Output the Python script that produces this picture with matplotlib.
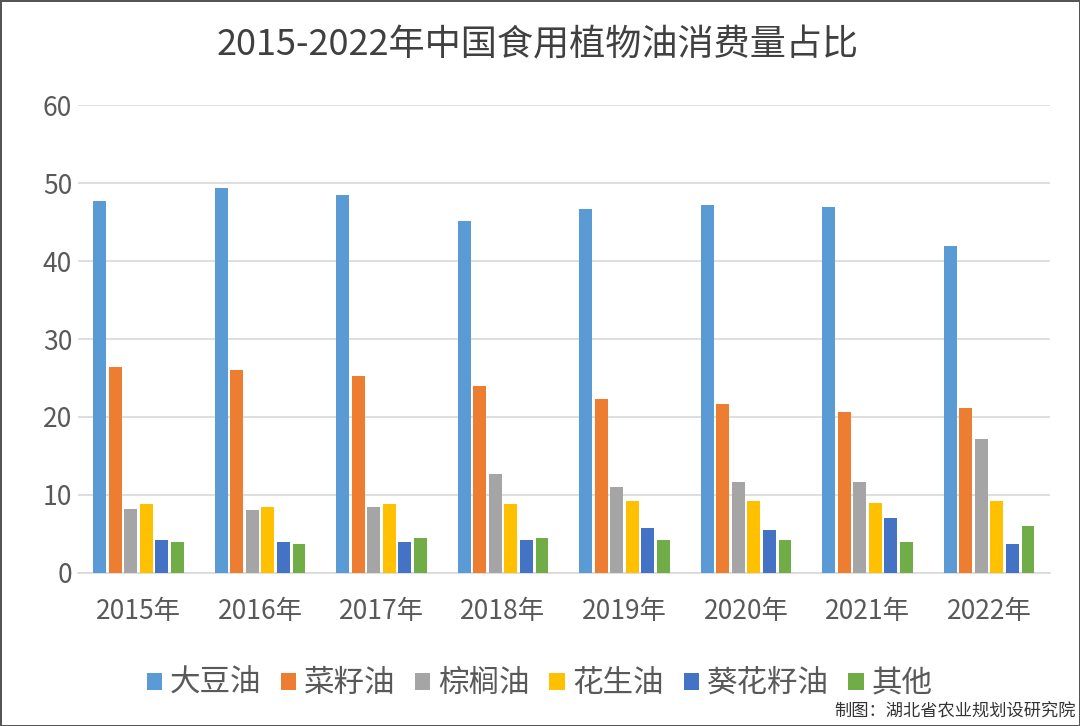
import matplotlib.pyplot as plt
import numpy as np

plt.rcParams['font.family'] = ['Noto Sans CJK SC', 'DejaVu Sans']

# 数据（%）
years = ["2015年", "2016年", "2017年", "2018年", "2019年", "2020年", "2021年", "2022年"]
soybean = [47.7, 49.4, 48.5, 45.2, 46.7, 47.2, 47.0, 41.9]
rapeseed = [26.4, 26.0, 25.3, 24.0, 22.3, 21.7, 20.7, 21.2]
palm = [8.2, 8.0, 8.5, 12.7, 11.0, 11.7, 11.7, 17.2]
peanut = [8.8, 8.5, 8.8, 8.8, 9.2, 9.2, 9.0, 9.2]
sunflower = [4.2, 4.0, 4.0, 4.2, 5.7, 5.5, 7.0, 3.7]
other = [4.0, 3.7, 4.5, 4.5, 4.2, 4.2, 4.0, 6.0]

series = [
    ("大豆油", soybean, "#5B9BD5"),
    ("菜籽油", rapeseed, "#ED7D31"),
    ("棕榈油", palm, "#A5A5A5"),
    ("花生油", peanut, "#FFC000"),
    ("葵花籽油", sunflower, "#4472C4"),
    ("其他", other, "#70AD47"),
]

fig = plt.figure(figsize=(10.8, 7.26), dpi=100)
fig.patch.set_edgecolor("#555555")
fig.patch.set_linewidth(2)
ax = fig.add_axes([0.072, 0.211, 0.9, 0.644])

x = np.arange(len(years))
slot = 0.128
for i, (name, vals, col) in enumerate(series):
    ax.bar(x + (i - 2.5) * slot, vals, width=0.105, color=col, label=name, zorder=3)

ax.set_xlim(-0.5, len(years) - 0.5)
ax.set_ylim(0, 60)
ax.set_yticks(range(0, 61, 10))
ax.set_xticks(x)
ax.set_xticklabels(years)
ax.grid(axis="y", color="#D9D9D9", linewidth=1.2, zorder=0)
for s in ["top", "right", "left"]:
    ax.spines[s].set_visible(False)
ax.spines["bottom"].set_color("#D9D9D9")
ax.spines["bottom"].set_linewidth(1.2)
ax.tick_params(axis="both", length=0, labelsize=19, colors="#595959")
ax.tick_params(axis="x", pad=18)
ax.tick_params(axis="y", pad=4)

fig.text(0.498, 0.938, "2015-2022年中国食用植物油消费量占比", ha="center", va="center",
         fontsize=26, color="#404040")

ax.legend(loc="upper center", bbox_to_anchor=(0.475, -0.145), ncol=6, frameon=False,
          fontsize=22, handlelength=0.5, handleheight=0.5, handletextpad=0.25,
          columnspacing=0.65, labelcolor="#595959")

fig.text(0.996, 0.02, "制图：湖北省农业规划设研究院", ha="right", va="center",
         fontsize=12.4, color="#333333")

fig.savefig("out.png", dpi=100)
